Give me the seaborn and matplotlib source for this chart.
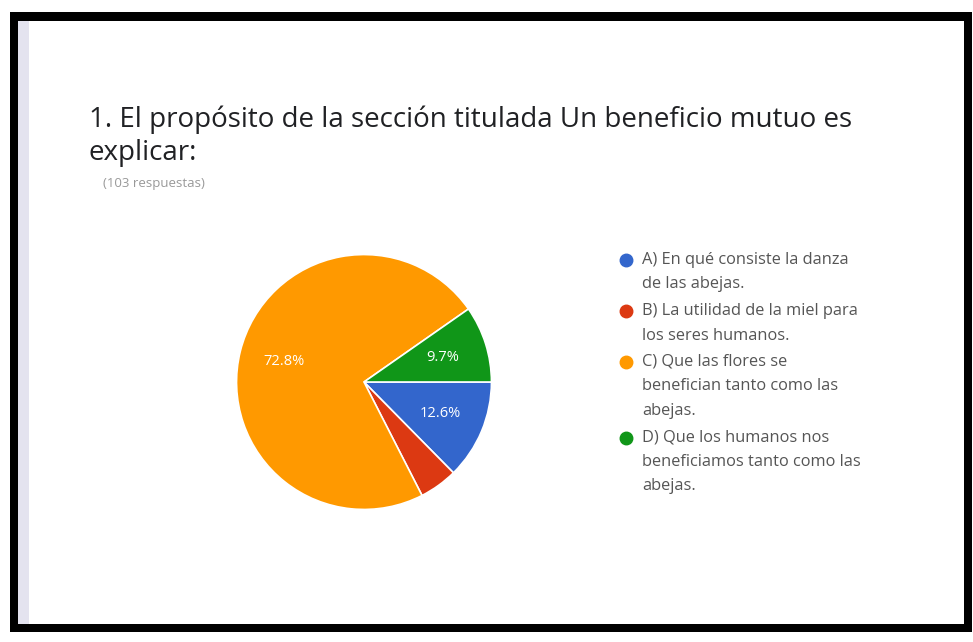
import matplotlib
matplotlib.use("Agg")
import matplotlib.pyplot as plt
import seaborn as sns
from matplotlib.patches import Rectangle
from matplotlib.lines import Line2D

# data (103 answers -> 12.6 / 4.9 / 72.8 / 9.7 %)
opciones = [
    "A) En qué consiste la danza\nde las abejas.",
    "B) La utilidad de la miel para\nlos seres humanos.",
    "C) Que las flores se\nbenefician tanto como las\nabejas.",
    "D) Que los humanos nos\nbeneficiamos tanto como las\nabejas.",
]
respuestas = [13, 5, 75, 10]
colores = ["#3366cc", "#dc3912", "#ff9900", "#109618"]
titulo = "1. El propósito de la sección titulada Un beneficio mutuo es\nexplicar:"
subtitulo = "(103 respuestas)"

sns.set_theme(style="white")
plt.rcParams["font.family"] = ["Open Sans", "DejaVu Sans"]

W, H = 973, 642
fig = plt.figure(figsize=(W / 100, H / 100), dpi=100)

def px(x, y):
    # pixel coords (top-left origin) -> figure fraction
    return x / W, 1 - y / H

# black frame of the screenshot
for (x0, y0, w, h, c) in [(10, 10, 962, 620, "black"), (18, 18, 946, 603, "white"),
                          (18, 18, 11, 603, "#e4e3ef")]:
    fig.patches.append(Rectangle((x0 / W, y0 / H), w / W, h / H, transform=fig.transFigure,
                                 facecolor=c, edgecolor="none", zorder=-5))

# title and subtitle
fig.text(*px(89, 106), titulo, fontsize=20, color="#202124", va="top", ha="left", linespacing=1.22)
fig.text(*px(103, 184), subtitulo, fontsize=9.5, color="#999999", va="center", ha="left")

# pie
cx, cy, r = 364, 382, 130
ax = fig.add_axes([(cx - r) / W, (H - cy - r) / H, 2 * r / W, 2 * r / H])
wedges, _, autotexts = ax.pie(
    respuestas, colors=colores, startangle=0, counterclock=False,
    autopct=lambda p: f"{p:.1f}%" if p > 6 else "", pctdistance=0.65,
    wedgeprops=dict(edgecolor="white", linewidth=1.2),
    textprops=dict(color="white", fontsize=10.5),
)
ax.set_xlim(-1.02, 1.02)
ax.set_ylim(-1.02, 1.02)
ax.axis("off")

# legend: round marker next to the first line of every entry
pitch = 24.5
linea = 0
for i, (opcion, c) in enumerate(zip(opciones, colores)):
    y = 260 + pitch * linea + 2 * i
    fig.add_artist(Line2D([626 / W], [1 - y / H], marker="o", linestyle="", markersize=9,
                          markerfacecolor=c, markeredgecolor=c, transform=fig.transFigure))
    for k, parte in enumerate(opcion.split("\n")):
        fig.text(*px(642, y + k * pitch), parte, fontsize=11.8, color="#555555",
                 va="center", ha="left")
    linea += opcion.count("\n") + 1

fig.savefig("out.png", dpi=100)
